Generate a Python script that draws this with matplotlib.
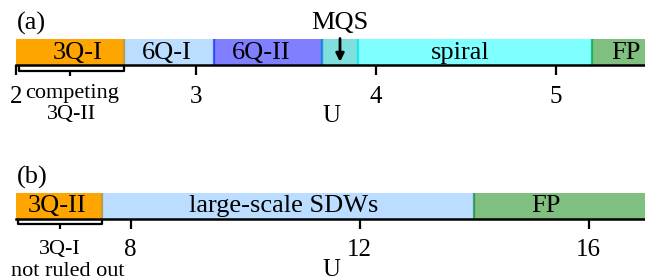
import matplotlib
matplotlib.use("Agg")
import matplotlib.pyplot as plt

plt.rcParams['font.family'] = ['Liberation Serif', 'DejaVu Serif']

# ---- data ----
a_bounds = [2.0, 2.6, 3.1, 3.7, 3.9, 5.2, 5.5]
a_labels = ["3Q-I", "6Q-I", "6Q-II", "", "spiral", "FP"]
a_label_pos = [2.34, 2.84, 3.36, 3.8, 4.47, 5.39]
a_colors = ["#FFA500", "#1E90FF", "#0000FF", "#00BFBF", "#00FFFF", "#008000"]
a_alphas = [1.0, 0.3, 0.5, 0.5, 0.5, 0.5]
a_ticks = [2, 3, 4, 5]
a_bracket = [2.0, 2.6]
a_bracket_text = ["competing", "3Q-II"]

b_bounds = [6.0, 7.5, 14.0, 17.0]
b_labels = ["3Q-II", "large-scale SDWs", "FP"]
b_label_pos = [6.72, 10.67, 15.25]
b_colors = ["#FFA500", "#1E90FF", "#008000"]
b_alphas = [1.0, 0.3, 0.5]
b_ticks = [8, 12, 16]
b_bracket = [6.0, 7.5]
b_bracket_text = ["3Q-I", "not ruled out"]

W, H = 645, 280
fig = plt.figure(figsize=(W / 100, H / 100), dpi=100)

def px_axes(x0, y_top, y_bot, x1=646):
    return fig.add_axes([x0 / W, 1 - y_bot / H, (x1 - x0) / W, (y_bot - y_top) / H])

def setup(ax, bounds, labels, lpos, colors, alphas, ticks):
    ax.set_xlim(bounds[0], bounds[-1])
    ax.set_ylim(0, 1)
    for i in range(len(labels)):
        ax.axvspan(bounds[i], bounds[i + 1], ymin=0, ymax=1,
                   facecolor=colors[i], alpha=alphas[i], linewidth=0)
        for xb in (bounds[i], bounds[i + 1]):
            if xb in (bounds[0], bounds[-1]):
                continue
            ax.axvline(xb, 0, 1, color=colors[i], alpha=alphas[i], lw=1.6)
        if labels[i]:
            ax.text(lpos[i], 0.47, labels[i], ha='center', va='center', fontsize=19)
    for s in ['top', 'left', 'right']:
        ax.spines[s].set_visible(False)
    ax.spines['bottom'].set_linewidth(1.8)
    ax.spines['bottom'].set_zorder(5)
    ax.set_yticks([])
    ax.set_xticks(ticks)
    ax.set_xticklabels([str(t) for t in ticks], fontsize=18)
    ax.tick_params(axis='x', direction='out', length=7, width=1.6, pad=8)
    ax.set_xlabel("U", fontsize=18, labelpad=-2)

def bracket(ax, x0, x1, xc, depth=0.22, tick=0.2):
    kw = dict(color='black', lw=1.6, clip_on=False, solid_capstyle='butt')
    ax.plot([x0, x0, x1, x1], [0, -depth, -depth, 0], **kw)
    ax.plot([xc, xc], [-depth, -depth - tick], **kw)

# panel (a)
axa = px_axes(16, 39, 65)
setup(axa, a_bounds, a_labels, a_label_pos, a_colors, a_alphas, a_ticks)
bracket(axa, a_bracket[0] + 0.015, a_bracket[1], 2.3)
axa.text(2.31, -1.08, a_bracket_text[0], ha='center', va='center', fontsize=16)
axa.text(2.31, -1.9, a_bracket_text[1], ha='center', va='center', fontsize=16)
axa.annotate("", xy=(3.8, 0.12), xytext=(3.8, 1.02),
             arrowprops=dict(arrowstyle='-|>', color='black', lw=2,
                             mutation_scale=12, shrinkA=0, shrinkB=0))
axa.text(3.8, 1.62, "MQS", ha='center', va='center', fontsize=19)
fig.text(17 / W, 1 - 23 / H, "(a)", ha='left', va='center', fontsize=19)

# panel (b)
axb = px_axes(16, 192.5, 218.5)
setup(axb, b_bounds, b_labels, b_label_pos, b_colors, b_alphas, b_ticks)
bracket(axb, b_bracket[0] + 0.04, b_bracket[1], 6.77)
axb.text(6.77, -1.2, b_bracket_text[0], ha='center', va='center', fontsize=16)
axb.text(6.9, -2.05, b_bracket_text[1], ha='center', va='center', fontsize=16)
fig.text(17 / W, 1 - 177 / H, "(b)", ha='left', va='center', fontsize=19)

fig.savefig("out.png", dpi=100)
